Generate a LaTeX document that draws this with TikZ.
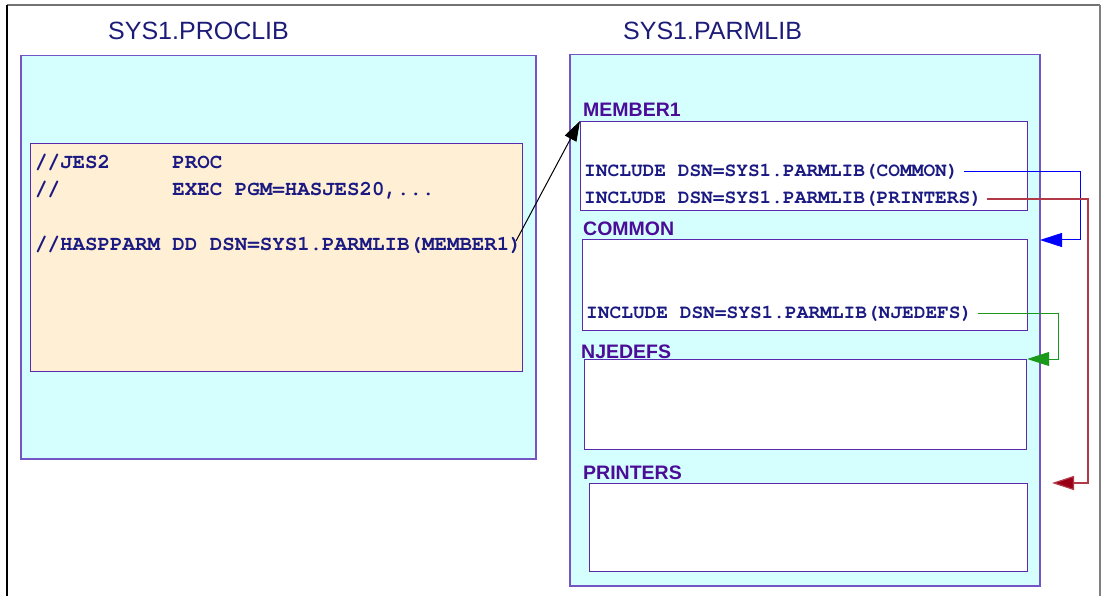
\documentclass[tikz,border=0pt]{standalone}
\usepackage{fontspec}
\setmainfont{Liberation Sans}
\newfontfamily\codefont{texgyrecursor}[Extension=.otf, UprightFont=*-regular, BoldFont=*-bold]
\usetikzlibrary{arrows.meta}
\definecolor{cyanfill}{HTML}{D5FFFF}
\definecolor{tanfill}{HTML}{FFF0D5}
\definecolor{libborder}{HTML}{7355C4}
\definecolor{memborder}{HTML}{5A2AAE}
\definecolor{titlecol}{HTML}{1C1C78}
\definecolor{lblcol}{HTML}{4B0C98}
\definecolor{codecol}{HTML}{1A1A82}
\definecolor{linkblue}{HTML}{0000FF}
\definecolor{linkgreen}{HTML}{1A991A}
\definecolor{linkred}{HTML}{B33848}
\definecolor{tipred}{HTML}{990018}
\tikzset{
  libbox/.style={draw=libborder, fill=cyanfill, line width=1.5pt, anchor=north west, inner sep=0pt},
  jclbox/.style={draw=memborder, fill=tanfill, line width=1.2pt, anchor=north west, inner sep=0pt},
  membox/.style={draw=memborder, fill=white, line width=1.2pt, anchor=north west, inner sep=0pt},
  title/.style={anchor=base west, inner sep=0pt, text=titlecol, font=\fontsize{25}{30}\selectfont},
  lbl/.style={anchor=base west, inner sep=0pt, text=lblcol, font=\fontsize{19.5}{23}\selectfont\bfseries},
  jcl/.style={anchor=base west, inner sep=0pt, text=codecol, font=\codefont\fontsize{20.8}{25}\selectfont\bfseries},
  inc/.style={anchor=base west, inner sep=0pt, text=codecol, font=\codefont\fontsize{19.5}{23}\selectfont\bfseries},
  link/.style={line width=1pt},
  bigtip/.style={-{Triangle[length=22pt,width=14pt]}},
}
\begin{document}
\begin{tikzpicture}[x=1pt,y=-1pt]
\useasboundingbox (0,0) rectangle (1101,596);
% frame
\draw[gray!90!black, line width=2pt] (7,5) -- (1100,5);
\draw[black, line width=1.3pt] (7,5) -- (7,596);
\draw[gray, line width=1.3pt] (1100,5) -- (1100,596);
% titles
\node[title] (tproc) at (108,40) {SYS1.PROCLIB};
\node[title] (tparm) at (623,40) {SYS1.PARMLIB};
% PROCLIB
\node[libbox, minimum width=515, minimum height=403] (proclib) at (20,55) {};
\node[jclbox, minimum width=492, minimum height=228] (jcl) at (30,143) {};
\node[jcl] (j1) at (35,169) {//JES2\ \ \ \ \ PROC};
\node[jcl] (j2) at (35,196) {//\ \ \ \ \ \ \ \ \ EXEC PGM=HASJES20,...};
\node[jcl] (j3) at (35,251) {//HASPPARM DD DSN=SYS1.PARMLIB(MEMBER1)};
% PARMLIB
\node[libbox, minimum width=470, minimum height=531] (parmlib) at (569,54) {};
\node[membox, minimum width=447, minimum height=89] (m1) at (580,121) {};
\node[membox, minimum width=445, minimum height=91] (common) at (582,239) {};
\node[membox, minimum width=442, minimum height=90] (njedefs) at (584,359) {};
\node[membox, minimum width=438, minimum height=88] (printers) at (589,483) {};
\node[lbl] (lm1) at (583,117) {MEMBER1};
\node[lbl] (lcommon) at (583,236) {COMMON};
\node[lbl] (lnje) at (581,358) {NJEDEFS};
\node[lbl] (lprt) at (583,479) {PRINTERS};
\node[inc] (inc1) at (584,177) {INCLUDE DSN=SYS1.PARMLIB(COMMON)};
\node[inc] (inc2) at (584,204) {INCLUDE DSN=SYS1.PARMLIB(PRINTERS)};
\node[inc] (inc3) at (586,319) {INCLUDE DSN=SYS1.PARMLIB(NJEDEFS)};
% connectors
\coordinate (jend) at (516,241);
\draw[link, black, line width=1pt, -{Triangle[length=20pt,width=13pt]}] (jend) -- (m1.north west);
\coordinate (bx) at (1080,0);
\coordinate (tipC) at (1040,240);
\draw[link, linkblue, bigtip] ([xshift=5pt,yshift=5pt]inc1.base east) -- ([yshift=5pt]inc1.base east -| bx) |- (tipC);
\coordinate (rx) at (1088,0);
\coordinate (tipP) at (1052,483);
\draw[link, linkred, line width=1.2pt, -{Triangle[length=22pt,width=14pt,fill=tipred]}] ([xshift=5pt,yshift=5pt]inc2.base east) -- ([yshift=5pt]inc2.base east -| rx) |- (tipP);
\coordinate (gx) at (1058,0);
\draw[link, linkgreen, bigtip] ([xshift=5pt,yshift=6pt]inc3.base east) -- ([yshift=6pt]inc3.base east -| gx) |- (njedefs.north east);
\end{tikzpicture}
\end{document}
